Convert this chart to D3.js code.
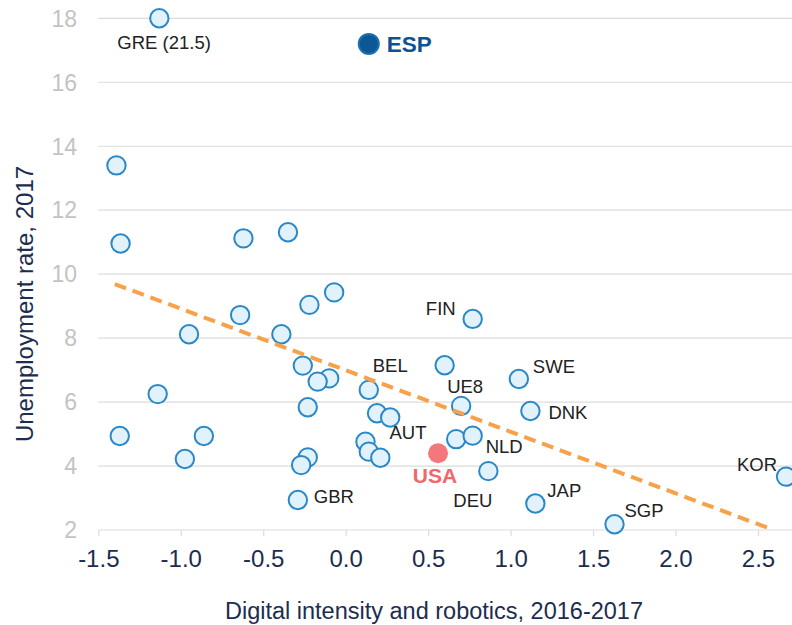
<!DOCTYPE html>
<html>
<head>
<meta charset="utf-8">
<title>Unemployment vs digital intensity</title>
<style>
  body { margin: 0; background: #fff; }
  svg { display: block; font-family: "Liberation Sans", Arial, sans-serif; }
</style>
</head>
<body>
<script src="https://d3js.org/d3.v7.min.js"></script>
<script>
// values
const names = ["GRE", "", "", "", "", "", "", "", "", "", "", "", "", "BEL", "", "", "", "", "", "", "", "GBR",
  "", "", "AUT", "", "", "USA", "", "NLD", "DEU", "UE8", "", "FIN", "SWE", "DNK", "JAP", "SGP", "KOR", "ESP"];
const digital = [-1.13, -1.39, -1.365, -0.62, -0.35, -0.07, -0.22, -0.64, -0.95, -0.39, -0.26, -0.10, -0.17, 0.14,
  -0.23, -1.14, -1.37, -0.86, -0.975, -0.23, -0.27, -0.29, 0.19, 0.27, 0.12, 0.14, 0.21, 0.56, 0.67, 0.77,
  0.865, 0.70, 0.60, 0.77, 1.05, 1.12, 1.15, 1.63, 2.67, 0.14];
const unemployment = [18, 13.40, 10.96, 11.12, 11.31, 9.43, 9.04, 8.72, 8.12, 8.12, 7.14, 6.74, 6.64, 6.38,
  5.84, 6.25, 4.94, 4.94, 4.22, 4.27, 4.03, 2.94, 5.65, 5.52, 4.76, 4.45, 4.26, 4.40, 4.84, 4.95,
  3.84, 5.88, 7.15, 8.60, 6.72, 5.72, 2.83, 2.18, 3.67, 17.20];
const labelText = { GRE: "GRE (21.5)" };
const trendX = [-1.40, 2.57];
const trendY = [9.69, 2.05];
const xTicks = [-1.5, -1.0, -0.5, 0.0, 0.5, 1.0, 1.5, 2.0, 2.5];
const yTicks = [2, 4, 6, 8, 10, 12, 14, 16, 18];

const width = 792, height = 625;
const navy = "#1c2d4f";

// label placement: [dx, dy, anchor]
const labelPos = {
  GRE: [-42, 31, "start"], ESP: [18, 8, "start"], FIN: [-17, -4, "end"], BEL: [4, -18, "start"],
  UE8: [-14, -13, "start"], SWE: [14, -6, "start"], DNK: [18, 8, "start"], AUT: [24, -3, "start"],
  NLD: [13, 17, "start"], USA: [-3, 30, "middle"], GBR: [16, 3, "start"], DEU: [-35, 36, "start"],
  JAP: [12, -6, "start"], SGP: [10, -7, "start"], KOR: [-9, -6, "end"]
};

const points = names.map((n, i) => ({ name: n, x: digital[i], y: unemployment[i] }));

const x = d3.scaleLinear().domain([-1.5, 2.5]).range([98.3, 758]);
const y = d3.scaleLinear().domain([2, 18]).range([530, 18.3]);

const svg = d3.select("body").append("svg")
  .attr("width", width)
  .attr("height", height);

// gridlines
svg.append("g")
  .selectAll("line")
  .data(yTicks)
  .join("line")
    .attr("x1", x(-1.5))
    .attr("x2", width)
    .attr("y1", d => y(d))
    .attr("y2", d => y(d))
    .attr("stroke", "#dcdcdc")
    .attr("stroke-width", 1.2);

// y tick labels
svg.append("g")
  .selectAll("text")
  .data(yTicks)
  .join("text")
    .attr("x", 77)
    .attr("y", d => y(d))
    .attr("dy", "0.36em")
    .attr("text-anchor", "end")
    .style("font-size", "23px")
    .attr("fill", "#c3c3c3")
    .text(d => d);

// x axis
const xAxis = svg.append("g")
  .attr("transform", `translate(0,${y(2)})`)
  .call(d3.axisBottom(x).tickValues(xTicks).tickSize(6).tickFormat(d3.format(".1f")).tickPadding(14));
xAxis.select(".domain").remove();
xAxis.selectAll(".tick line").attr("stroke", "#dcdcdc").attr("stroke-width", 1.2);
xAxis.selectAll(".tick text")
  .attr("fill", navy)
  .style("font-size", "24px")
  .style("font-family", "'Liberation Sans', Arial, sans-serif")
  .text(d => d3.format(".1f")(d).replace("\u2212", "-"));

// axis titles
svg.append("text")
  .attr("x", 434)
  .attr("y", 619)
  .attr("text-anchor", "middle")
  .attr("fill", navy)
  .style("font-size", "23.5px")
  .text("Digital intensity and robotics, 2016-2017");

svg.append("text")
  .attr("transform", "translate(33,304) rotate(-90)")
  .attr("text-anchor", "middle")
  .attr("fill", navy)
  .style("font-size", "24px")
  .text("Unemployment rate, 2017");

// points
svg.append("g")
  .selectAll("circle")
  .data(points)
  .join("circle")
    .attr("cx", d => x(d.x))
    .attr("cy", d => y(d.y))
    .attr("r", d => d.name === "USA" || d.name === "ESP" ? 10 : 9.2)
    .attr("fill", d => d.name === "USA" ? "#f4787b" : d.name === "ESP" ? "#0b5895" : "#e1f2fd")
    .attr("stroke", d => d.name === "USA" ? "none" : d.name === "ESP" ? "#1c6fae" : "#2b88c6")
    .attr("stroke-width", 2);

// trend line
svg.append("line")
  .attr("x1", x(trendX[0]))
  .attr("y1", y(trendY[0]))
  .attr("x2", x(trendX[1]))
  .attr("y2", y(trendY[1]))
  .attr("stroke", "#f7a14a")
  .attr("stroke-width", 4)
  .attr("stroke-dasharray", "12,7");

// labels
svg.append("g")
  .selectAll("text")
  .data(points.filter(d => d.name))
  .join("text")
    .attr("x", d => x(d.x) + labelPos[d.name][0])
    .attr("y", d => y(d.y) + labelPos[d.name][1])
    .attr("text-anchor", d => labelPos[d.name][2])
    .attr("fill", d => d.name === "USA" ? "#f0676c" : d.name === "ESP" ? "#0b5394" : "#222")
    .style("font-weight", d => d.name === "USA" || d.name === "ESP" ? "bold" : "normal")
    .style("font-size", d => d.name === "ESP" ? "22.5px" : d.name === "USA" ? "21px" : "18.5px")
    .text(d => labelText[d.name] || d.name);
</script>
</body>
</html>
